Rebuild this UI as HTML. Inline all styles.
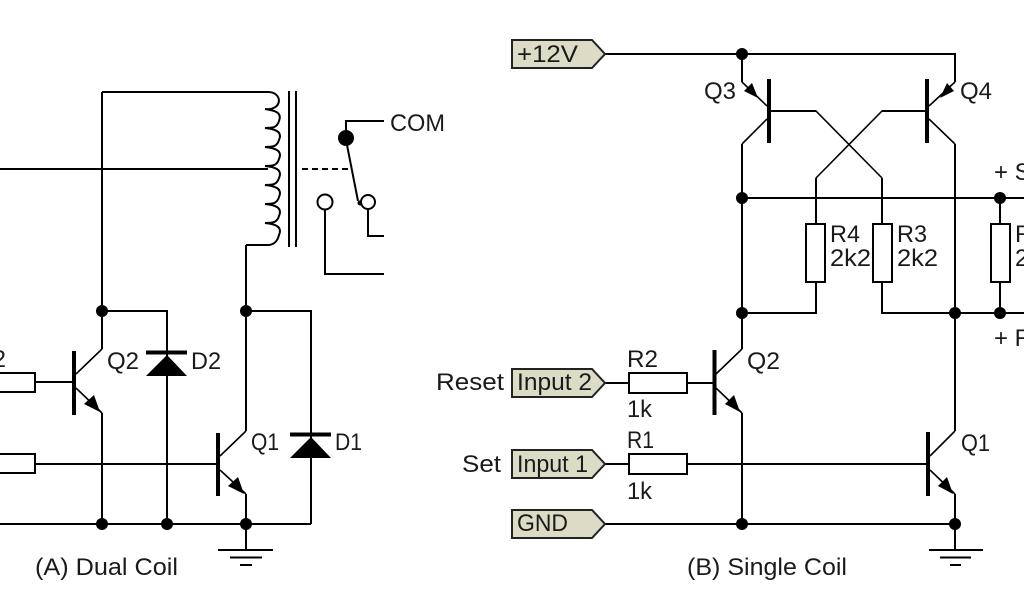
<!DOCTYPE html>
<html><head><meta charset="utf-8"><style>
html,body{margin:0;padding:0;background:#fff;width:1024px;height:600px;overflow:hidden}
svg{display:block}
text{font-family:"Liberation Sans",sans-serif;font-size:24px;fill:#1a1a1a}
.w{fill:none;stroke:#000;stroke-width:2}
.t{fill:none;stroke:#000;stroke-width:1.6}
.b{stroke:#000;stroke-width:4;fill:none}
.r{fill:#fff;stroke:#000;stroke-width:2}
.l{fill:#dcdbc6;stroke:#222;stroke-width:2}
</style></head><body>
<svg width="1024" height="600" viewBox="0 0 1024 600" xmlns="http://www.w3.org/2000/svg">
<!-- A wires -->
<path class="w" d="M102 92H268M0 169H268M102 92V311M102 413V524M246 245H268M246 245V431M246 311H311V524M102 311H167V524M0 524H311M246 494V550"/>
<path class="w" d="M0 382H74M0 464H218"/>
<path class="w" d="M102 311V349M218 550H273M230 557.500H262M240 565H252" />
<rect class="r" x="-10" y="373" width="45" height="19"/>
<rect class="r" x="-10" y="454" width="45" height="19"/>
<!-- coil -->
<path class="w" d="M268 92C283 92 283 111 265 109C271 110 283 111 279 121C277 128 272 128 265 128C274 129 283 131 279 140C277 147 272 147 265 147C274 148 283 150 279 159C277 166 272 166 265 166C274 167 283 169 279 178C277 185 272 185 265 185C274 186 283 188 279 197C277 204 272 204 265 204C274 205 283 207 279 216C277 223 272 223 265 223C274 224 283 226 279 235C277 243 272 245 268 245"/>
<path class="w" d="M289 91V247M296 91V247"/>
<!-- relay -->
<path class="w" d="M384 121H346V138M347 145L358 201"/>
<path class="w" stroke-dasharray="6 4" d="M302 169H348"/>
<circle cx="346" cy="138" r="8"/>
<circle cx="360" cy="203" r="2.500"/>
<circle class="r" cx="325" cy="202" r="7.500"/>
<circle class="r" cx="368" cy="202" r="7"/>
<path class="w" d="M368 209V236H384M325 210V274H384"/>
<!-- A transistors -->
<path class="b" d="M74 351V415M218 433V496"/>
<path class="t" d="M76 374L102 349M76 388L102 413M220 456L246 431M220 470L246 494"/>
<path d="M100 412L84 404L94 395ZM244 494L228 486L238 477Z"/>
<!-- diodes -->
<path class="b" d="M146 352.500H187M290 434.500H331" stroke-width="4"/>
<path d="M167 355L187 376H146ZM311 437L331 458H290Z"/>
<g><circle cx="102" cy="311" r="6"/><circle cx="246" cy="311" r="6"/><circle cx="102" cy="524" r="6"/><circle cx="167" cy="524" r="6"/><circle cx="246" cy="524" r="6"/></g>
<!-- A labels -->
<text x="6" y="367" text-anchor="end">2</text>
<text x="107" y="369" textLength="32" lengthAdjust="spacingAndGlyphs">Q2</text>
<text x="191" y="369" textLength="30" lengthAdjust="spacingAndGlyphs">D2</text>
<text x="251" y="450" textLength="28" lengthAdjust="spacingAndGlyphs">Q1</text>
<text x="335" y="450" textLength="27" lengthAdjust="spacingAndGlyphs">D1</text>
<text x="390" y="131" textLength="55" lengthAdjust="spacingAndGlyphs">COM</text>
<text x="35" y="575" textLength="143" lengthAdjust="spacingAndGlyphs">(A) Dual Coil</text>

<!-- B wires -->
<path class="w" d="M605 54H955V82M742 54V82M742 144V349M742 413V524M955 144V431M955 494V550M605 524H955M742 198H1024M742 313H816V282M882 282V313H1024M1000 198V313"/>
<path class="w" d="M605 383H714M605 464H928"/>
<path class="w" d="M816 224V178M882 224V178"/>
<path class="t" d="M742 82L767 106M767 119L742 144M771 111H816L882 178M927 111H882L816 178M955 82L929 106M929 119L955 144M716 374L742 349M716 388L742 413M930 456L955 431M930 470L955 494"/>
<path class="w" d="M771 111H816M927 111H882"/>
<path class="b" d="M769 79V143M927 79V143M714.500 350V415M928 432V496"/>
<path d="M758 98L744 91L752 83ZM940 98L954 91L947 83ZM740 412L725 404L734 395ZM953 494L938 486L947 477Z"/>
<rect class="r" x="806" y="224" width="19" height="58"/>
<rect class="r" x="873" y="224" width="19" height="58"/>
<rect class="r" x="991" y="224" width="19" height="58"/>
<rect class="r" x="629" y="373" width="58" height="20"/>
<rect class="r" x="629" y="454" width="58" height="20"/>
<path class="w" d="M929 550H983M940 557.500H971M950 565H961"/>
<g><circle cx="742" cy="54" r="6"/><circle cx="742" cy="198" r="6"/><circle cx="1000" cy="198" r="6"/><circle cx="742" cy="313" r="6"/><circle cx="955" cy="313" r="6"/><circle cx="1000" cy="313" r="6"/><circle cx="742" cy="524" r="6"/><circle cx="955" cy="524" r="6"/></g>
<!-- tags -->
<path class="l" d="M512 40H592L605 54L592 68H512Z"/>
<path class="l" d="M512 369H592L605 383L592 397H512Z"/>
<path class="l" d="M512 450H592L605 464L592 478H512Z"/>
<path class="l" d="M512 510H592L605 524L592 538H512Z"/>
<!-- B labels -->
<text x="517" y="62" textLength="61" lengthAdjust="spacingAndGlyphs">+12V</text>
<text x="517" y="390" textLength="75" lengthAdjust="spacingAndGlyphs">Input 2</text>
<text x="517" y="472" textLength="71" lengthAdjust="spacingAndGlyphs">Input 1</text>
<text x="517" y="531" textLength="51" lengthAdjust="spacingAndGlyphs">GND</text>
<text x="436" y="390" textLength="68" lengthAdjust="spacingAndGlyphs">Reset</text>
<text x="462" y="472" textLength="39" lengthAdjust="spacingAndGlyphs">Set</text>
<text x="627" y="367" textLength="31" lengthAdjust="spacingAndGlyphs">R2</text>
<text x="627" y="417" textLength="25" lengthAdjust="spacingAndGlyphs">1k</text>
<text x="627" y="448" textLength="27" lengthAdjust="spacingAndGlyphs">R1</text>
<text x="627" y="499" textLength="25" lengthAdjust="spacingAndGlyphs">1k</text>
<text x="747" y="369" textLength="33" lengthAdjust="spacingAndGlyphs">Q2</text>
<text x="961" y="451" textLength="29" lengthAdjust="spacingAndGlyphs">Q1</text>
<text x="704" y="99" textLength="32" lengthAdjust="spacingAndGlyphs">Q3</text>
<text x="960" y="99" textLength="32" lengthAdjust="spacingAndGlyphs">Q4</text>
<text x="830" y="242" textLength="30" lengthAdjust="spacingAndGlyphs">R4</text>
<text x="830" y="266" textLength="41" lengthAdjust="spacingAndGlyphs">2k2</text>
<text x="897" y="242" textLength="30" lengthAdjust="spacingAndGlyphs">R3</text>
<text x="897" y="266" textLength="41" lengthAdjust="spacingAndGlyphs">2k2</text>
<text x="1015" y="242">R5</text>
<text x="1015" y="266">2k2</text>
<text x="994" y="180">+ Set</text>
<text x="994" y="346">+ Reset</text>
<text x="687" y="575" textLength="160" lengthAdjust="spacingAndGlyphs">(B) Single Coil</text>
</svg>
</body></html>
